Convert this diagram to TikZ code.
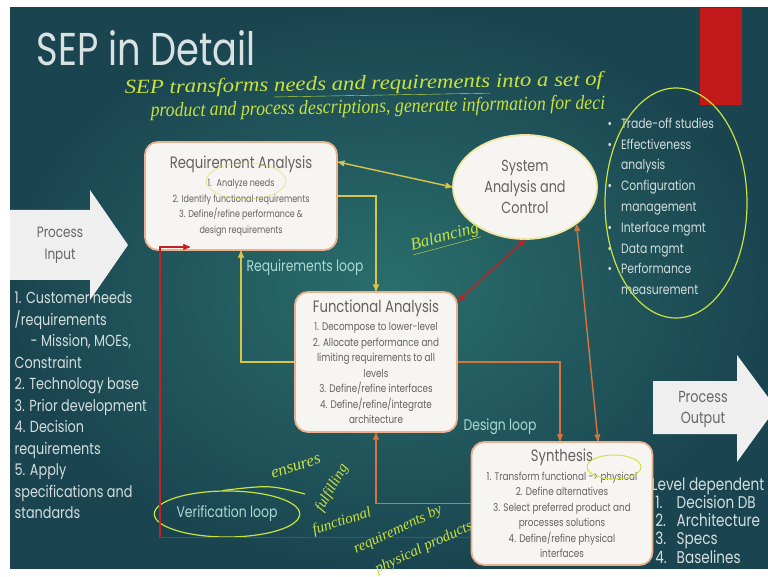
\documentclass[tikz,border=0pt]{standalone}
\usepackage{graphicx}
\usepackage{fontspec}
\setmainfont{Poppins}[FakeStretch=0.8]
\newfontfamily\handfont{Liberation Serif}
\usetikzlibrary{arrows,positioning,shapes.geometric}

\definecolor{slidebg}{HTML}{2A6E6C}
\definecolor{slideedge}{HTML}{1A4550}
\definecolor{boxline}{HTML}{EDB08C}
\definecolor{sacline}{HTML}{EFE6A0}
\definecolor{boxfill}{HTML}{F7F5F2}
\definecolor{boxtext}{HTML}{626262}
\definecolor{listtext}{HTML}{D5DEDE}
\definecolor{looptext}{HTML}{A9DBD6}
\definecolor{handcol}{HTML}{C9E23E}
\definecolor{ylink}{HTML}{D9C447}
\definecolor{rlink}{HTML}{C42222}
\definecolor{olink}{HTML}{D7743A}
\definecolor{slidered}{HTML}{C21A1A}
\definecolor{arrowfill}{HTML}{EFEFEF}
\definecolor{arrowtext}{HTML}{666666}

\newcommand{\boxtitle}[1]{{\fontsize{16.5}{19}\selectfont #1}\\[3pt]}

\begin{document}
\begin{tikzpicture}[x=1pt,y=-1pt,>=stealth',line width=1.4pt]
  \tikzstyle{box}=[draw=boxline,fill=boxfill,line width=1.8pt,rounded corners=13pt,text=boxtext,align=center,font=\fontsize{11}{15.5}\selectfont,inner sep=0pt]
  \tikzstyle{loop}=[text=looptext,font=\fontsize{15.5}{17}\selectfont,inner sep=1pt]
  \tikzstyle{list}=[text=listtext,align=left,inner sep=0pt]
  \tikzstyle{hand}=[text=handcol,font=\handfont\itshape\fontsize{17}{20}\selectfont,inner sep=0pt]
  \tikzstyle{handline}=[draw=handcol,line width=1.2pt]

  % slide
  \useasboundingbox (0,0) rectangle (768,577);
  \fill[white] (0,0) rectangle (768,577);
  \shade[inner color=slidebg,outer color=slideedge] (10,8) rectangle (768,568);
  \fill[slidered] (700,8) rectangle (742,105);

  \node[text=listtext!90,font=\fontsize{46}{50}\selectfont,anchor=west,inner sep=0pt] (title) at (36,48) {SEP in Detail};

  % process input / output
  \fill[arrowfill] (10,210) -- (90,210) -- (90,190) -- (128,245) -- (90,300) -- (90,280) -- (10,280) -- cycle;
  \node[font=\fontsize{15}{22}\selectfont,text=arrowtext,align=center] (pin) at (60,245) {Process\\Input};
  \fill[arrowfill] (653,381) -- (737,381) -- (737,355) -- (776,408) -- (737,462) -- (737,434) -- (653,434) -- cycle;
  \node[font=\fontsize{16}{21}\selectfont,text=arrowtext,align=center] (pout) at (703,410) {Process\\Output};

  \node[list,anchor=north west,font=\fontsize{16}{21.5}\selectfont] (inlist) at (14,291)
    {1. Customer needs\\/requirements\\\quad- Mission, MOEs,\\Constraint\\2. Technology base\\3. Prior development\\4. Decision\\requirements\\5. Apply\\specifications and\\standards};
  \node[list,anchor=north west,font=\fontsize{13.5}{20.8}\selectfont] (tasks) at (607,113)
    {\begin{tabular}{@{}l@{\hspace{9pt}}l@{}}
      \textbullet & Trade-off studies\\ \textbullet & Effectiveness\\ & analysis\\
      \textbullet & Configuration\\ & management\\ \textbullet & Interface mgmt\\
      \textbullet & Data mgmt\\ \textbullet & Performance\\ & measurement
    \end{tabular}};
  \node[list,anchor=north west,font=\fontsize{17}{18}\selectfont] (outlist) at (651,477)
    {\begin{tabular}{@{}l@{\hspace{10pt}}l@{}}
      \multicolumn{2}{@{}l}{Level dependent}\\ \ 1. & Decision DB\\ \ 2. & Architecture\\ \ 3. & Specs\\ \ 4. & Baselines
    \end{tabular}};

  % boxes
  \node[box,minimum width=192pt,minimum height=108pt,font=\fontsize{10}{15.5}\selectfont] (ra) at (241,196)
    {\boxtitle{Requirement Analysis}1.\enspace Analyze needs\\2. Identify functional requirements\\3. Define/refine performance \&\\design requirements};
  \node[box,ellipse,sharp corners,draw=sacline,minimum width=144pt,minimum height=104pt,font=\fontsize{16}{21}\selectfont] (sac) at (525,187)
    {System\\Analysis and\\Control};
  \node[box,minimum width=162pt,minimum height=140pt] (fa) at (376,362)
    {\boxtitle{Functional Analysis}1. Decompose to lower-level\\2. Allocate performance and\\limiting requirements to all\\levels\\3. Define/refine interfaces\\4. Define/refine/integrate\\architecture};
  \node[box,minimum width=181pt,minimum height=123pt] (syn) at (562,503.5)
    {\boxtitle{Synthesis}1. Transform functional -> physical\\2. Define alternatives\\3. Select preferred product and\\processes solutions\\4. Define/refine physical\\interfaces};

  \node[loop] (reqloop) at (305,268) {Requirements loop};
  \node[loop] (desloop) at (500,427) {Design loop};
  \node[loop,ellipse,draw=handcol,line width=1.2pt,minimum width=143pt,minimum height=46pt] (verloop) at (227,514) {Verification loop};

  % loops
  \draw[->,ylink] (ra.east) -| (fa.north);
  \draw[->,ylink] (fa.west) -| (ra.south);
  \draw[<->,ylink] ([yshift=34pt]ra.east) -- (sac.west);
  \draw[<->,rlink] (sac.south) -- ([yshift=-10pt]fa.north east);
  \draw[<->,olink] (sac.south east) -- ([xshift=36pt]syn.north);
  \draw[->,olink] (fa.east) -| ([xshift=-2pt]syn.north);
  \draw[->,olink] (syn.west) -| (fa.south);
  \coordinate (verend) at (190,247);
  \draw[->,rlink] ([yshift=-34pt]syn.west) -| ([xshift=-30pt]verend) -- (verend);

  % handwritten notes
  \node[hand,anchor=west,rotate=1,font=\handfont\itshape\fontsize{20}{22}\selectfont] (note1) at (124,90) {\scalebox{1.14}[1]{SEP transforms \underline{needs and requirements} into a set of}};
  \node[hand,anchor=west,rotate=1,font=\handfont\itshape\fontsize{20}{22}\selectfont] (note2) at (150,112) {\scalebox{0.89}[1]{product and process descriptions, generate information for deci}};
  \node[hand,rotate=15] (balance) at (445,238) {\underline{Balancing}};
  \node[hand,rotate=18] (ens) at (296,467) {ensures};
  \node[hand,rotate=60,font=\handfont\itshape\fontsize{15}{18}\selectfont] (ful) at (332,488) {fulfilling};
  \node[hand,rotate=18,font=\handfont\itshape\fontsize{15}{18}\selectfont] (fun) at (342,522) {functional};
  \node[hand,rotate=25,font=\handfont\itshape\fontsize{15}{18}\selectfont] (reqby) at (398,530) {requirements by};
  \node[hand,rotate=25,font=\handfont\itshape\fontsize{15}{18}\selectfont] (phys) at (424,548) {physical products};
  \draw[handline] (676,203) ellipse [x radius=71,y radius=115];
  \draw[handline,line width=0.9pt] (614,467) ellipse [x radius=27,y radius=12];
  \draw[handline,line width=0.9pt,opacity=0.5] (246,181) ellipse [x radius=40,y radius=18];
  \draw[handline] (verloop.100) .. controls (270,485) .. (305,494);
\end{tikzpicture}
\end{document}
